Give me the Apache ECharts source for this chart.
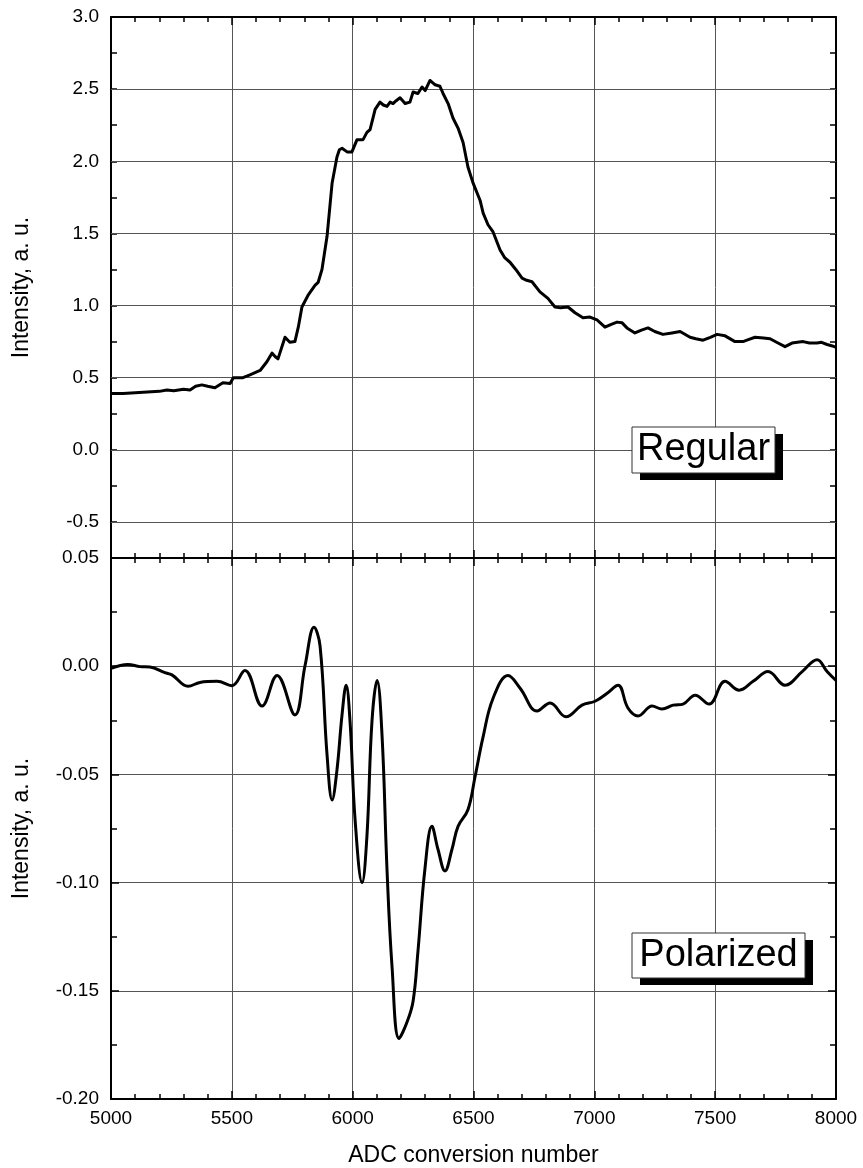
<!DOCTYPE html>
<html>
<head>
<meta charset="utf-8">
<script src="https://cdn.jsdelivr.net/npm/echarts@6/dist/echarts.min.js"></script>
<style>html,body{margin:0;padding:0;background:#fff;}#c{width:863px;height:1168px;}</style>
</head>
<body>
<div id="c"></div>
<script>
// Top panel ("Regular") data
const topX = [5000,5050,5100,5150,5200,5231,5260,5300,5327,5350,5376,5400,5430,5463,5493,5506,5546,5575,5617,5645,5666,5680,5691,5720,5740,5761,5775,5790,5815,5844,5857,5873,5894,5915,5935,5945,5956,5977,5997,6018,6043,6059,6072,6093,6113,6127,6142,6155,6167,6180,6196,6217,6237,6250,6270,6287,6300,6320,6341,6361,6374,6395,6415,6436,6457,6477,6498,6527,6540,6560,6581,6610,6630,6651,6675,6701,6720,6742,6775,6808,6837,6860,6891,6920,6953,6982,7011,7044,7070,7094,7115,7135,7168,7195,7222,7250,7284,7321,7355,7396,7420,7450,7480,7508,7541,7582,7615,7640,7665,7700,7727,7760,7789,7818,7840,7864,7890,7921,7940,7963,7985,8000];
const topY = [0.39,0.39,0.395,0.40,0.405,0.415,0.41,0.42,0.415,0.44,0.45,0.44,0.43,0.465,0.46,0.50,0.50,0.52,0.55,0.61,0.67,0.645,0.63,0.78,0.745,0.75,0.85,0.99,1.07,1.14,1.16,1.25,1.48,1.85,2.03,2.08,2.09,2.065,2.065,2.15,2.15,2.20,2.22,2.36,2.41,2.39,2.38,2.41,2.40,2.42,2.44,2.40,2.41,2.48,2.47,2.515,2.49,2.56,2.53,2.52,2.47,2.40,2.30,2.23,2.13,1.96,1.85,1.73,1.64,1.56,1.51,1.385,1.33,1.30,1.25,1.19,1.175,1.165,1.095,1.05,0.99,0.985,0.99,0.95,0.915,0.92,0.90,0.85,0.87,0.885,0.88,0.845,0.81,0.83,0.845,0.82,0.80,0.81,0.82,0.78,0.77,0.76,0.78,0.80,0.79,0.75,0.75,0.765,0.78,0.775,0.77,0.74,0.715,0.74,0.745,0.75,0.74,0.74,0.745,0.73,0.72,0.71];

// Bottom panel ("Polarized") data
const botX = [5000,5070,5120,5161,5223,5252,5319,5368,5439,5500,5554,5625,5687,5761,5803,5840,5865,5894,5915,5935,5956,5973,5989,6010,6039,6059,6080,6101,6122,6142,6163,6192,6225,6250,6270,6299,6328,6353,6382,6411,6436,6477,6506,6539,6581,6643,6693,6763,6817,6883,6949,7003,7053,7098,7139,7181,7239,7280,7326,7367,7417,7475,7541,7599,7657,7719,7789,7860,7922,7963,8000];
const botY = [-0.001,0.0008,-0.0002,-0.0004,-0.003,-0.004,-0.0093,-0.0075,-0.007,-0.009,-0.002,-0.0184,-0.0043,-0.0225,0.0003,0.018,0.0094,-0.041,-0.0618,-0.048,-0.0225,-0.0088,-0.0253,-0.0709,-0.100,-0.0786,-0.0253,-0.0066,-0.033,-0.0937,-0.139,-0.172,-0.1644,-0.1548,-0.132,-0.0937,-0.074,-0.0846,-0.0946,-0.0846,-0.074,-0.0663,-0.0513,-0.033,-0.0148,-0.0043,-0.0102,-0.0207,-0.017,-0.0234,-0.018,-0.0162,-0.0125,-0.0088,-0.0193,-0.023,-0.0184,-0.0198,-0.018,-0.0175,-0.0134,-0.0175,-0.007,-0.0111,-0.007,-0.0025,-0.0088,-0.0025,0.003,-0.0025,-0.0066];

const topGridValues = [-0.5,0,0.5,1.0,1.5,2.0,2.5];
const xTickValues = { min: 5000, max: 8000, step: 500 };

const FONT = 'Liberation Sans, Arial, sans-serif';
const AX = { onZero: false, lineStyle: { color: '#000', width: 2 } };
const gridLine = { show: true, lineStyle: { color: '#555', width: 1 } };

function xAx(gridIndex, position, opts) {
  return Object.assign({
    type: 'value', gridIndex, position,
    min: xTickValues.min, max: xTickValues.max, interval: xTickValues.step,
    axisLine: AX, axisTick: { inside: true, length: 8, lineStyle: { color: '#000', width: 1.5 } },
    minorTick: { show: true, splitNumber: 5, length: 5, lineStyle: { color: '#000', width: 1.5 } },
    axisLabel: { show: false }, splitLine: { show: false }
  }, opts);
}

const chart = echarts.init(document.getElementById('c'), null, { renderer: 'canvas' });
chart.setOption({
  animation: false,
  backgroundColor: '#fff',
  grid: [
    { left: 111, right: 27, top: 17, height: 541 },
    { left: 111, right: 27, top: 558, height: 548 }
  ],
  xAxis: [
    xAx(0, 'bottom', { splitLine: gridLine }),
    xAx(0, 'top', {}),
    xAx(1, 'top', {}),
    xAx(1, 'bottom', {
      splitLine: gridLine,
      axisLabel: { show: true, fontFamily: FONT, fontSize: 19, color: '#000', margin: 10, formatter: v => String(v) },
      name: 'ADC conversion number', nameLocation: 'middle', nameGap: 45,
      nameTextStyle: { fontFamily: FONT, fontSize: 23, color: '#000' }
    })
  ],
  yAxis: [
    {
      type: 'value', gridIndex: 0, position: 'left', min: -0.75, max: 3.0, interval: 0.25,
      axisLine: AX, axisTick: { inside: true, length: 6, lineStyle: { color: '#000', width: 1.5 } },
      axisLabel: { fontFamily: FONT, fontSize: 19, color: '#000', margin: 12,
        formatter: v => (Math.abs(v * 2 - Math.round(v * 2)) < 1e-6 ? v.toFixed(1) : '') },
      splitLine: { show: false },
      name: 'Intensity, a. u.', nameLocation: 'middle', nameGap: 78,
      nameTextStyle: { fontFamily: FONT, fontSize: 23, color: '#000' }
    },
    {
      type: 'value', gridIndex: 0, position: 'right', min: -0.75, max: 3.0, interval: 0.25,
      axisLine: AX, axisTick: { inside: true, length: 6, lineStyle: { color: '#000', width: 1.5 } },
      axisLabel: { show: false }, splitLine: { show: false }
    },
    {
      type: 'value', gridIndex: 1, position: 'left', min: -0.20, max: 0.05, interval: 0.05,
      axisLine: AX, axisTick: { inside: true, length: 8, lineStyle: { color: '#000', width: 1.5 } },
      minorTick: { show: true, splitNumber: 2, length: 6, lineStyle: { color: '#000', width: 1.5 } },
      axisLabel: { fontFamily: FONT, fontSize: 19, color: '#000', margin: 12, formatter: v => v.toFixed(2) },
      splitLine: gridLine,
      name: 'Intensity, a. u.', nameLocation: 'middle', nameGap: 78,
      nameTextStyle: { fontFamily: FONT, fontSize: 23, color: '#000' }
    },
    {
      type: 'value', gridIndex: 1, position: 'right', min: -0.20, max: 0.05, interval: 0.05,
      axisLine: AX, axisTick: { inside: true, length: 8, lineStyle: { color: '#000', width: 1.5 } },
      minorTick: { show: true, splitNumber: 2, length: 6, lineStyle: { color: '#000', width: 1.5 } },
      axisLabel: { show: false }, splitLine: { show: false }
    }
  ],
  series: [
    {
      type: 'line', xAxisIndex: 0, yAxisIndex: 0, showSymbol: false, symbol: 'none',
      data: topX.map((x, i) => [x, topY[i]]),
      lineStyle: { color: '#000', width: 3, join: 'round' },
      z: 3,
      markLine: {
        silent: true, symbol: 'none', label: { show: false },
        lineStyle: { color: '#555', width: 1, type: 'solid' },
        z: 1,
        data: topGridValues.map(v => ({ yAxis: v }))
      }
    },
    {
      type: 'line', xAxisIndex: 3, yAxisIndex: 2, showSymbol: false, symbol: 'none',
      smooth: 0.4,
      data: botX.map((x, i) => [x, botY[i]]),
      lineStyle: { color: '#000', width: 3, join: 'round' },
      z: 3
    }
  ],
  graphic: [
    { type: 'rect', shape: { x: 640, y: 434, width: 143, height: 46 }, style: { fill: '#000' }, z: 10 },
    { type: 'rect', shape: { x: 632, y: 427, width: 143, height: 46 }, style: { fill: '#fff', stroke: '#333', lineWidth: 1 }, z: 11 },
    { type: 'text', x: 703.5, y: 450, style: { text: 'Regular', font: '38px ' + FONT, fill: '#000', align: 'center', verticalAlign: 'middle' }, z: 12 },
    { type: 'rect', shape: { x: 640, y: 940, width: 173, height: 45 }, style: { fill: '#000' }, z: 10 },
    { type: 'rect', shape: { x: 632, y: 933, width: 173, height: 45 }, style: { fill: '#fff', stroke: '#333', lineWidth: 1 }, z: 11 },
    { type: 'text', x: 718.5, y: 956, style: { text: 'Polarized', font: '38px ' + FONT, fill: '#000', align: 'center', verticalAlign: 'middle' }, z: 12 }
  ]
});
</script>
</body>
</html>
